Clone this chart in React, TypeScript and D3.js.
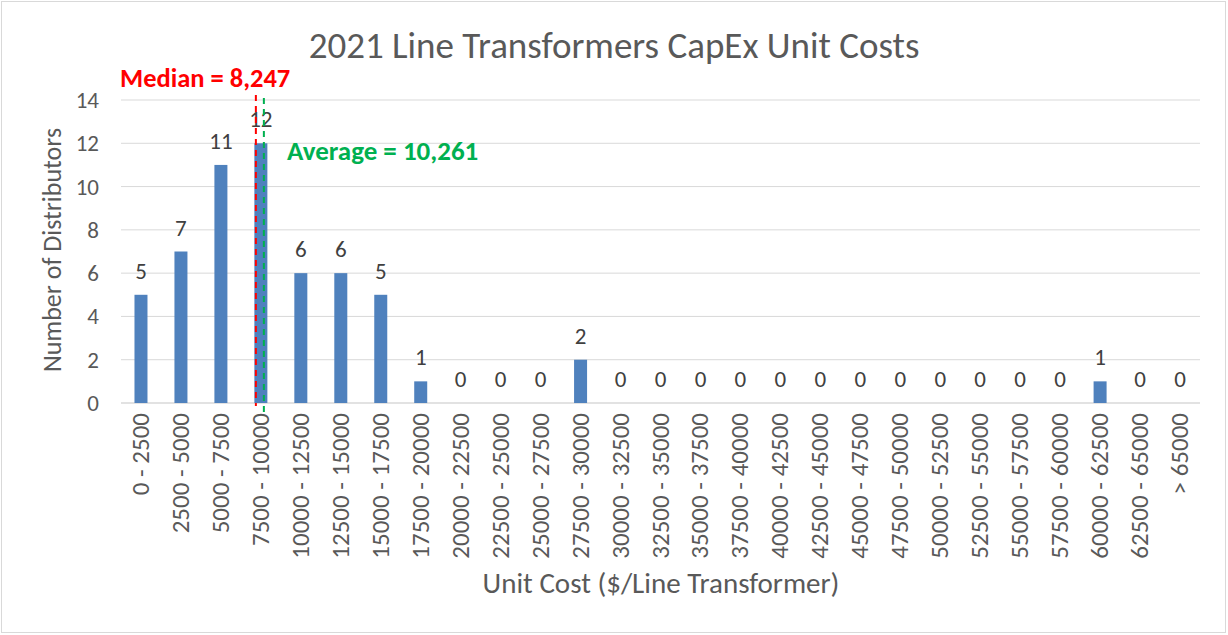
import React from "react";
import * as d3 from "d3";

// bins of unit cost ($/line transformer)
const categories = [
  "0 - 2500", "2500 - 5000", "5000 - 7500", "7500 - 10000", "10000 - 12500",
  "12500 - 15000", "15000 - 17500", "17500 - 20000", "20000 - 22500", "22500 - 25000",
  "25000 - 27500", "27500 - 30000", "30000 - 32500", "32500 - 35000", "35000 - 37500",
  "37500 - 40000", "40000 - 42500", "42500 - 45000", "45000 - 47500", "47500 - 50000",
  "50000 - 52500", "52500 - 55000", "55000 - 57500", "57500 - 60000", "60000 - 62500",
  "62500 - 65000", "> 65000",
];
const counts = [5, 7, 11, 12, 6, 6, 5, 1, 0, 0, 0, 2, 0, 0, 0, 0, 0, 0, 0, 0, 0, 0, 0, 0, 1, 0, 0];
const yTicks = [0, 2, 4, 6, 8, 10, 12, 14];
const medianLabel = "Median = 8,247";
const averageLabel = "Average = 10,261";
const markerBin = "7500 - 10000";

const W = 1228;
const H = 635;
const FONT = "Calibri, Carlito, 'Open Sans', sans-serif";

export default function App() {
  const x = d3.scaleBand<string>().domain(categories).range([121, 1200]);
  const y = d3.scaleLinear().domain([0, 14]).range([403, 100]);
  const barW = 13;
  const cx = (c: string) => (x(c) ?? 0) + x.bandwidth() / 2;
  const medX = cx(markerBin) - 5;
  const avgX = cx(markerBin) + 3;

  return (
    <svg width={W} height={H} style={{ position: "absolute", left: 0, top: 0 }}>
      <rect x={0} y={0} width={W} height={H} fill="#fff" />
      <rect x={1.5} y={1.5} width={W - 4} height={H - 4} fill="none" stroke="#d9d9d9" />
      <text x={614} y={58} textAnchor="middle" fontFamily={FONT} fontSize={37} fill="#595959">
        2021 Line Transformers CapEx Unit Costs
      </text>

      {yTicks.map((t) => (
        <g key={t}>
          <line x1={121} x2={1200} y1={y(t)} y2={y(t)} stroke="#d9d9d9" strokeWidth={t === 0 ? 1.5 : 1} />
          <text x={99} y={y(t) + 8} textAnchor="end" fontFamily={FONT} fontSize={23} fill="#595959">
            {t}
          </text>
        </g>
      ))}

      <text
        transform={`translate(61,250) rotate(-90)`}
        textAnchor="middle"
        fontFamily={FONT}
        fontSize={26}
        fill="#595959"
      >
        Number of Distributors
      </text>

      {categories.map((c, i) => (
        <g key={c}>
          {counts[i] > 0 && (
            <rect x={cx(c) - barW / 2} y={y(counts[i])} width={barW} height={y(0) - y(counts[i])} fill="#4f81bd" />
          )}
          <text x={cx(c)} y={y(counts[i]) - 16} textAnchor="middle" fontFamily={FONT} fontSize={23} fill="#404040">
            {counts[i]}
          </text>
          <text
            transform={`translate(${cx(c) + 8},413) rotate(-90)`}
            textAnchor="end"
            fontFamily={FONT}
            fontSize={25}
            fill="#595959"
          >
            {c}
          </text>
        </g>
      ))}

      <line x1={medX} x2={medX} y1={95} y2={406} stroke="#ff0000" strokeWidth={2} strokeDasharray="6,5" />
      <line x1={avgX} x2={avgX} y1={98} y2={412} stroke="#00b050" strokeWidth={2} strokeDasharray="6,5" />
      <text x={120} y={87} fontFamily={FONT} fontWeight="bold" fontSize={26.5} fill="#ff0000">
        {medianLabel}
      </text>
      <text x={287} y={160} fontFamily={FONT} fontWeight="bold" fontSize={27} fill="#00b050">
        {averageLabel}
      </text>

      <text x={661} y={593} textAnchor="middle" fontFamily={FONT} fontSize={29} fill="#595959">
        Unit Cost ($/Line Transformer)
      </text>
    </svg>
  );
}
